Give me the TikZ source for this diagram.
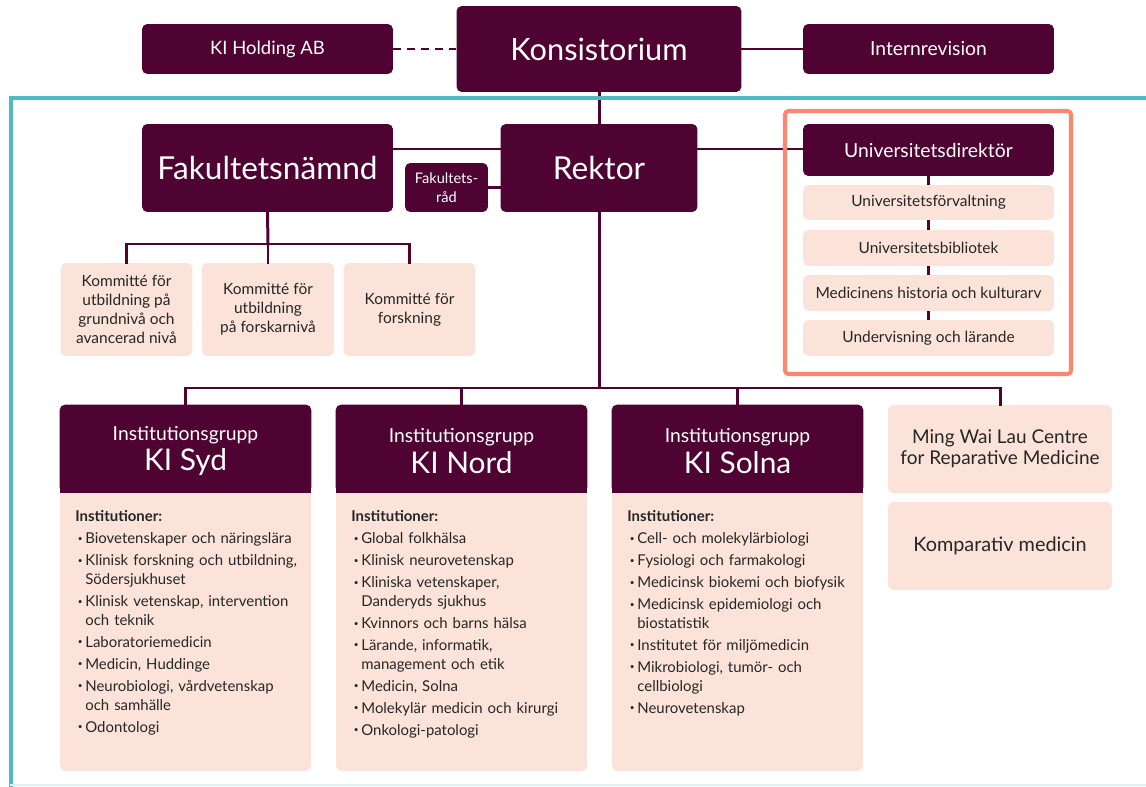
\documentclass[tikz,border=0pt]{standalone}
\usepackage{fontspec}
\setmainfont{Lato}
\usepackage{tikz}
\usetikzlibrary{calc}
\definecolor{kiplum}{rgb}{0.31,0.01,0.20}
\definecolor{kipeach}{rgb}{0.99,0.89,0.85}
\definecolor{kiteal}{rgb}{0.31,0.73,0.76}
\definecolor{kisalmon}{rgb}{0.99,0.53,0.44}
\newcommand{\itm}{\par\hangindent=0.2cm\hangafter=1\hspace*{0.05cm}\makebox[0.15cm][l]{\raisebox{.3ex}{\scalebox{.55}{\textbullet}}}}
\newcommand{\nl}{\hfil\break}
\tikzstyle{every node}=[font=\fontsize{8.8}{10.5}\selectfont]

\begin{document}
\begin{tikzpicture}[line cap=rect,x=0.02cm,y=-0.02cm,
    darkbox/.style={fill=kiplum,text=white,rounded corners=3pt,inner sep=0pt,align=center},
    lightbox/.style={fill=kipeach,text=black!85,rounded corners=3pt,inner sep=0pt,align=center},
    link/.style={draw=kiplum,line width=1.7pt},
    listtext/.style={anchor=north west,inner sep=0pt,text width=4.6cm,align=left,text=black!85,
      font=\fontsize{8.5}{10.8}\selectfont\setlength{\parskip}{1.7pt}}]
  \useasboundingbox (0,0) rectangle (1146,787);
  \clip (0,0) rectangle (1146,787);
  % top row
  \node[darkbox,minimum width=5.02cm,minimum height=1cm,font=\fontsize{10.5}{12}\selectfont] (holding) at (267.5,49) {KI Holding AB};
  \node[darkbox,minimum width=5.7cm,minimum height=1.72cm,font=\fontsize{17.5}{20}\selectfont] (konsist) at (599,49) {Konsistorium};
  \node[darkbox,minimum width=5.02cm,minimum height=1cm,font=\fontsize{11}{12}\selectfont] (internrev) at (928.5,49) {Internrevision};
  % second row
  \node[darkbox,minimum width=5.02cm,minimum height=1.76cm,font=\fontsize{18}{22}\selectfont] (faknamnd) at (267.5,168) {Fakultetsnämnd};
  \node[darkbox,minimum width=3.94cm,minimum height=1.76cm,font=\fontsize{18}{22}\selectfont] (rektor) at (599,168) {Rektor};
  \node[darkbox,minimum width=1.66cm,minimum height=0.98cm,font=\fontsize{8.3}{10.5}\selectfont] (fakrad) at (446.5,187.5) {Fakultets-\\råd};
  \node[darkbox,minimum width=5.02cm,minimum height=1.04cm,font=\fontsize{11}{12}\selectfont] (unidir) at (928.5,150) {Universitetsdirektör};
  \node[lightbox,minimum width=5.02cm,minimum height=0.7cm] (univforv) at (928.5,202.5) {Universitetsförvaltning};
  \node[lightbox,minimum width=5.02cm,minimum height=0.72cm] (unibib) at (928.5,248) {Universitetsbibliotek};
  \node[lightbox,minimum width=5.02cm,minimum height=0.72cm] (medhist) at (928.5,293) {Medicinens historia och kulturarv};
  \node[lightbox,minimum width=5.02cm,minimum height=0.72cm] (underv) at (928.5,338) {Undervisning och lärande};
  % kommitteer
  \node[lightbox,minimum width=2.64cm,minimum height=1.86cm,font=\fontsize{8.8}{10.8}\selectfont] (komm1) at (126.5,309.5) {Kommitté för\\utbildning på\\grundnivå och\\avancerad nivå};
  \node[lightbox,minimum width=2.64cm,minimum height=1.86cm,font=\fontsize{8.8}{10.8}\selectfont] (komm2) at (268,309.5) {Kommitté för\\utbildning\\på forskarnivå};
  \node[lightbox,minimum width=2.64cm,minimum height=1.86cm,font=\fontsize{8.8}{10.8}\selectfont] (komm3) at (409.5,309.5) {Kommitté för\\forskning};
  % institutionsgrupper
  \node[lightbox,minimum width=5.02cm,minimum height=7.32cm] (syd) at (185.5,588) {};
  \node[lightbox,minimum width=5.02cm,minimum height=7.32cm] (nord) at (461.5,588) {};
  \node[lightbox,minimum width=5.02cm,minimum height=7.32cm] (solna) at (737.5,588) {};
  \foreach \g in {syd,nord,solna}{
    \fill[kiplum,rounded corners=3pt] (\g.north west) rectangle ($(\g.north east)+(0,88)$);
    \fill[kiplum] ($(\g.north west)+(0,40)$) rectangle ($(\g.north east)+(0,88)$);
  }
  \node[align=center,text=white,font=\fontsize{11}{17.5}\selectfont] (sydhead) at (185.5,451) {Institutionsgrupp\\{\fontsize{17}{20}\selectfont KI Syd}};
  \node[align=center,text=white,font=\fontsize{11}{17.5}\selectfont] (nordhead) at (461.5,451) {Institutionsgrupp\\{\fontsize{17}{20}\selectfont KI Nord}};
  \node[align=center,text=white,font=\fontsize{11}{17.5}\selectfont] (solnahead) at (737.5,451) {Institutionsgrupp\\{\fontsize{17}{20}\selectfont KI Solna}};
  \node[listtext] (sydlist) at (75,510) {\textbf{Institutioner:}
    \itm Biovetenskaper och näringslära
    \itm Klinisk forskning och utbildning,\nl Södersjukhuset
    \itm Klinisk vetenskap, intervention\nl och teknik
    \itm Laboratoriemedicin
    \itm Medicin, Huddinge
    \itm Neurobiologi, vårdvetenskap\nl och samhälle
    \itm Odontologi};
  \node[listtext] (nordlist) at (351,510) {\textbf{Institutioner:}
    \itm Global folkhälsa
    \itm Klinisk neurovetenskap
    \itm Kliniska vetenskaper,\nl Danderyds sjukhus
    \itm Kvinnors och barns hälsa
    \itm Lärande, informatik,\nl management och etik
    \itm Medicin, Solna
    \itm Molekylär medicin och kirurgi
    \itm Onkologi-patologi};
  \node[listtext] (solnalist) at (627,510) {\textbf{Institutioner:}
    \itm Cell- och molekylärbiologi
    \itm Fysiologi och farmakologi
    \itm Medicinsk biokemi och biofysik
    \itm Medicinsk epidemiologi och\nl biostatistik
    \itm Institutet för miljömedicin
    \itm Mikrobiologi, tumör- och\nl cellbiologi
    \itm Neurovetenskap};
  \node[lightbox,minimum width=4.48cm,minimum height=1.76cm,font=\fontsize{10.8}{12}\selectfont] (mingwai) at (1000,449) {Ming Wai Lau Centre\\for Reparative Medicine};
  \node[lightbox,minimum width=4.48cm,minimum height=1.76cm,font=\fontsize{11.3}{12}\selectfont] (kompmed) at (1000,546) {Komparativ medicin};
  % connectors
  \coordinate (kombus) at (268,244);
  \coordinate (instbus) at (599,388);
  \draw[link,dash pattern=on 0.16cm off 0.12cm,line cap=butt] (holding) -- (konsist);
  \draw[link] (konsist) -- (internrev);
  \draw[link] (konsist) -- (rektor);
  \draw[link] ([yshift=0.38cm]faknamnd.east) -- ([yshift=0.38cm]rektor.west);
  \draw[link] (fakrad) -- (fakrad -| rektor.west);
  \draw[link] ([yshift=0.38cm]rektor.east) -- ([yshift=0.38cm]rektor.east -| unidir.west);
  \foreach \a/\b in {unidir/univforv,univforv/unibib,unibib/medhist,medhist/underv}
    \draw[link,line width=2.2pt,line cap=butt] (\a) -- (\b);
  \draw[link] (faknamnd.south) -- (kombus);
  \draw[link] (komm1.north) |- (kombus) -| (komm3.north);
  \draw[link] (kombus) -- (komm2.north);
  \draw[link] (rektor.south) -- (instbus);
  \draw[link] (syd.north) |- (instbus) -| (mingwai.north);
  \draw[link] (nord.north) -- (nord.north |- instbus);
  \draw[link] (solna.north) -- (solna.north |- instbus);
  % frames
  \draw[kiteal,line width=2.7pt] (1160,98) -- (11,98) -- (11,790);
  \draw[kiteal!20,line width=0.8pt] (11,785) -- (1160,785);
  \draw[kisalmon,line width=2.3pt,rounded corners=2pt] (785,111) rectangle (1071,374);
\end{tikzpicture}
\end{document}
